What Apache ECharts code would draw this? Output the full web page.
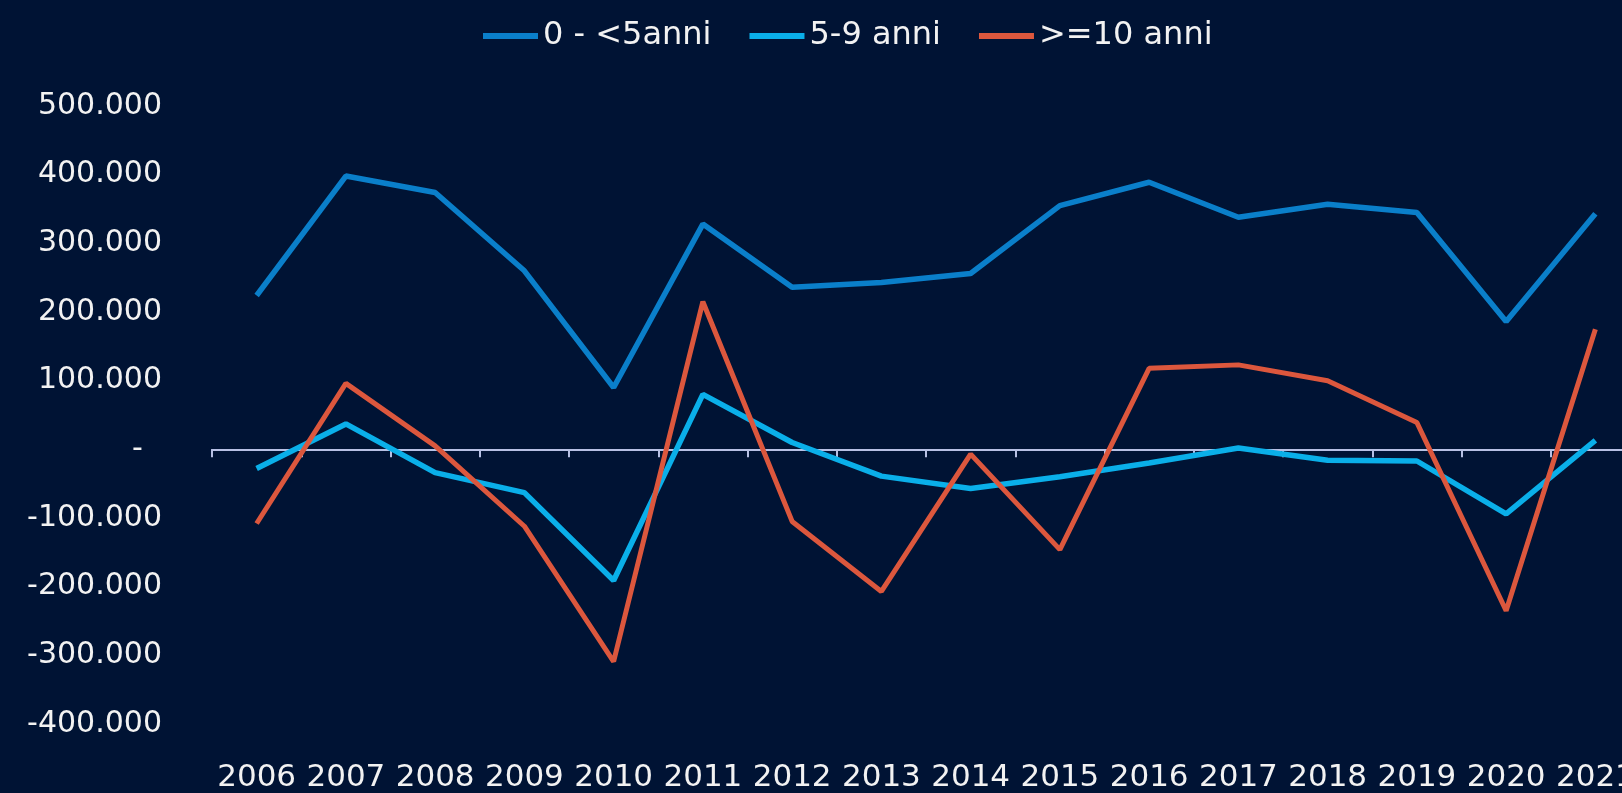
<!DOCTYPE html>
<html>
<head>
<meta charset="utf-8">
<title>Saldo per anzianità</title>
<script src="https://cdn.jsdelivr.net/npm/echarts@6/dist/echarts.min.js"></script>
<style>
  html, body { margin: 0; padding: 0; background: #001334; }
  #chart { width: 1622px; height: 793px; }
</style>
</head>
<body>
<div id="chart"></div>
<script>
// anni sull'asse x
const anni = ['2006', '2007', '2008', '2009', '2010', '2011', '2012', '2013',
  '2014', '2015', '2016', '2017', '2018', '2019', '2020', '2021']

// valori
const fino5 = [224000, 398000, 374000, 260000, 90000, 328000, 236000, 243000,
  256000, 355000, 389000, 338000, 357000, 345000, 186000, 343000]
const da5a9 = [-28000, 37000, -34000, -63000, -191000, 80000, 10000, -39000,
  -57000, -40000, -20000, 2000, -16000, -17000, -94000, 13000]
const oltre10 = [-108000, 96000, 5000, -112000, -309000, 215000, -105000, -207000,
  -7000, -146000, 118000, 123000, 100000, 39000, -235000, 175000]

const nomiSerie = ['0 - <5anni', '5-9 anni', '>=10 anni']
const colori = ['#0a7fca', '#0aafe9', '#dc573d']

// formato italiano: 100.000, zero come trattino
const formatta = (v) => {
  if (v === 0) return '-  '
  const s = Math.abs(v).toString().replace(/\B(?=(\d{3})+(?!\d))/g, '.')
  return (v < 0 ? '-' : '') + s
}

const chart = echarts.init(document.getElementById('chart'))

const option = {
  backgroundColor: '#001334',
  animation: false,
  legend: {
    left: 478,
    top: 15,
    icon: 'rect',
    itemWidth: 55,
    itemHeight: 6,
    itemGap: 38,
    textStyle: {
      color: '#f2f2f2',
      fontFamily: 'DejaVu Sans',
      fontSize: 32
    },
    data: nomiSerie
  },
  grid: {
    left: 212,
    right: -18,
    top: 106,
    bottom: 69,
    containLabel: false,
    outerBoundsMode: 'none'
  },
  xAxis: {
    type: 'category',
    data: anni,
    axisLine: {
      onZero: true,
      lineStyle: { color: '#b7c0e4', width: 2 }
    },
    axisTick: {
      show: true,
      length: 8,
      lineStyle: { color: '#b7c0e4', width: 2 }
    },
    axisLabel: {
      interval: 0,
      // in v6 le etichette restano sul fondo della griglia
      margin: 38,
      color: '#f2f2f2',
      fontFamily: 'DejaVu Sans',
      fontSize: 31
    },
    splitLine: { show: false }
  },
  yAxis: {
    type: 'value',
    min: -400000,
    max: 500000,
    interval: 100000,
    axisLine: { show: false },
    axisTick: { show: false },
    splitLine: { show: false },
    axisLabel: {
      margin: 50,
      color: '#f2f2f2',
      fontFamily: 'DejaVu Sans',
      fontSize: 30,
      formatter: formatta
    }
  },
  series: [
    {
      name: nomiSerie[0],
      type: 'line',
      data: fino5,
      symbol: 'none',
      z: 3,
      lineStyle: { color: colori[0], width: 5.5 },
      itemStyle: { color: colori[0] }
    },
    {
      name: nomiSerie[1],
      type: 'line',
      data: da5a9,
      symbol: 'none',
      z: 3,
      lineStyle: { color: colori[1], width: 5.5 },
      itemStyle: { color: colori[1] }
    },
    {
      name: nomiSerie[2],
      type: 'line',
      data: oltre10,
      symbol: 'none',
      z: 4,
      lineStyle: { color: colori[2], width: 5 },
      itemStyle: { color: colori[2] }
    }
  ]
}

chart.setOption(option)
</script>
</body>
</html>
